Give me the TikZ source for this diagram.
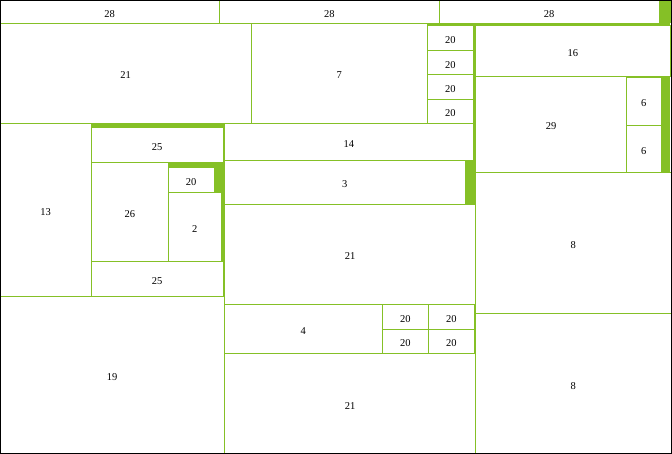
\documentclass[tikz,border=0pt]{standalone}
\usepackage{fontspec}
\setmainfont{Liberation Serif}
\definecolor{tmgreen}{RGB}{133,192,38}
\newcommand\tmcell[6]{%
  \path[cellbox] (#2,#3) rectangle (#4,#5);
  \node[lab] (#1) at ({(#2+#4)/2},{(#3+#5)/2}) {#6};}
\begin{document}
\begin{tikzpicture}[x=1pt,y=-1pt,
  cellbox/.style={fill=white,draw=tmgreen,line width=1pt},
  groupfill/.style={fill=tmgreen},
  lab/.style={font=\fontsize{10.5}{12}\selectfont,inner sep=0pt,text=black,yshift=-2pt},
  frame/.style={draw=black,line width=1.2pt}]
\useasboundingbox (0,0) rectangle (672,454);
\fill[white] (0,0) rectangle (672,454);
% group fills
\path[groupfill] (659,0) rectangle (671,23.3);
\path[groupfill] (427,23.3) rectangle (476,204.3);
\path[groupfill] (224,123.3) rectangle (476,204.3);
\path[groupfill] (91.3,123.3) rectangle (224.3,296.3);
\path[groupfill] (474,304.3) rectangle (476,353.3);
\path[groupfill] (476,23.3) rectangle (670,76.3);
\path[groupfill] (626.3,76.3) rectangle (670,172.3);
% top row
\tmcell{t1}{0}{0}{219.3}{23.3}{28}
\tmcell{t2}{219.3}{0}{439.3}{23.3}{28}
\tmcell{t3}{439.3}{0}{659}{23.3}{28}
% upper left block
\tmcell{a21}{0}{23.3}{251.3}{123.3}{21}
\tmcell{a7}{251.3}{23.3}{427.3}{123.3}{7}
\tmcell{b1}{427.3}{25.7}{473.3}{50.7}{20}
\tmcell{b2}{427.3}{50.7}{473.3}{74.7}{20}
\tmcell{b3}{427.3}{74.7}{473.3}{99.3}{20}
\tmcell{b4}{427.3}{99.3}{473.3}{123.3}{20}
\tmcell{c14}{224.3}{123.3}{473.3}{160.3}{14}
\tmcell{c3}{224.3}{160.3}{465}{204.3}{3}
\tmcell{c21}{224.3}{204.3}{475.7}{304.3}{21}
\tmcell{c4}{224.3}{304.3}{382.3}{353.3}{4}
\tmcell{d1}{382.3}{304.3}{428.3}{329.3}{20}
\tmcell{d2}{428.3}{304.3}{474.3}{329.3}{20}
\tmcell{d3}{382.3}{329.3}{428.3}{353.3}{20}
\tmcell{d4}{428.3}{329.3}{474.3}{353.3}{20}
\tmcell{c21b}{224.3}{353.3}{475.7}{454}{21}
% left block
\tmcell{e13}{0}{123.3}{91.3}{296.3}{13}
\tmcell{e25a}{91.3}{127.7}{223}{162.7}{25}
\tmcell{e26}{91.3}{162.7}{168.3}{261.3}{26}
\tmcell{e20}{168.3}{167.7}{214}{192.3}{20}
\tmcell{e2}{168.3}{192.3}{221}{261.3}{2}
\tmcell{e25b}{91.3}{261.3}{223}{296.3}{25}
\tmcell{e19}{0}{296.3}{224.3}{454}{19}
% right block
\tmcell{r16}{475.7}{25.7}{670}{76.3}{16}
\tmcell{r29}{475.7}{76.3}{626.3}{172.3}{29}
\tmcell{r6a}{626.3}{77.7}{661}{125.3}{6}
\tmcell{r6b}{626.3}{125.3}{661}{172.3}{6}
\tmcell{r8a}{475.7}{172.3}{671}{313.3}{8}
\tmcell{r8b}{475.7}{313.3}{671}{454}{8}
% frame
\draw[frame] (0.6,0.6) rectangle (671.2,453.3);
\end{tikzpicture}
\end{document}
